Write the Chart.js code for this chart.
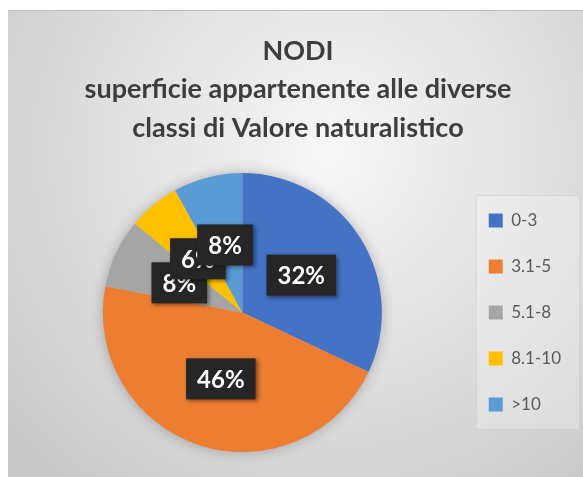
<!DOCTYPE html>
<html>
<head>
<meta charset="utf-8">
<script src="https://cdn.jsdelivr.net/npm/chart.js@4.4.1/dist/chart.umd.min.js"></script>
<style>
  html, body { margin: 0; padding: 0; background: #fff; }
  #wrap { width: 583px; height: 477px; }
</style>
</head>
<body>
<div id="wrap"><canvas id="pieChart" width="583" height="477"></canvas></div>
<script>
// chart data
const categories = ['0-3', '3.1-5', '5.1-8', '8.1-10', '>10'];
const percentages = [32, 46, 8, 6, 8];
const sliceColors = ['#4472C4', '#ED7D31', '#A5A5A5', '#FFC000', '#5B9BD5'];
const titleLines = ['NODI', 'superficie appartenente alle diverse', 'classi di Valore naturalistico'];

// panel background with soft radial gradient
const panelBackground = {
  id: 'panelBackground',
  beforeDraw(chart) {
    const ctx = chart.ctx;
    const w = chart.width, h = chart.height;
    ctx.save();
    ctx.fillStyle = '#ffffff';
    ctx.fillRect(0, 0, w, h);
    const g = ctx.createRadialGradient(330, 150, 0, 330, 150, 430);
    g.addColorStop(0, '#f7f7f7');
    g.addColorStop(1, '#c9c9c9');
    ctx.fillStyle = g;
    ctx.fillRect(8, 10, w - 8, h - 10);
    ctx.strokeStyle = '#bdbdbd';
    ctx.lineWidth = 1;
    ctx.beginPath();
    ctx.moveTo(8, 10.5);
    ctx.lineTo(w, 10.5);
    ctx.stroke();

    // legend frame
    const boxes = chart.legend && chart.legend.legendHitBoxes;
    if (boxes && boxes.length) {
      const first = boxes[0], last = boxes[boxes.length - 1];
      const x0 = first.left - 13;
      const y0 = first.top - 17;
      const y1 = last.top + last.height + 16;
      ctx.fillStyle = 'rgba(255,255,255,0.28)';
      ctx.fillRect(x0, y0, w - 3 - x0, y1 - y0);
      ctx.strokeStyle = 'rgba(200,200,200,0.6)';
      ctx.strokeRect(x0 + 0.5, y0 + 0.5, w - 4 - x0, y1 - y0);
    }
    ctx.restore();
  }
};

// soft shadow under the pie
const pieShadow = {
  id: 'pieShadow',
  beforeDatasetsDraw(chart) {
    const arc = chart.getDatasetMeta(0).data[0];
    if (!arc) return;
    const {x, y, outerRadius} = arc.getProps(['x', 'y', 'outerRadius'], true);
    const ctx = chart.ctx;
    ctx.save();
    ctx.shadowColor = 'rgba(0,0,0,0.3)';
    ctx.shadowBlur = 14;
    ctx.fillStyle = '#bbbbbb';
    ctx.beginPath();
    ctx.arc(x, y, outerRadius - 1, 0, Math.PI * 2);
    ctx.fill();
    ctx.restore();
  }
};

// dark boxed percentage labels
const boxLabels = {
  id: 'boxLabels',
  afterDatasetsDraw(chart) {
    const ctx = chart.ctx;
    const meta = chart.getDatasetMeta(0);
    ctx.save();
    ctx.font = 'bold 24px Lato, "Open Sans", sans-serif';
    ctx.textAlign = 'center';
    ctx.textBaseline = 'middle';
    meta.data.forEach((arc, i) => {
      const pos = arc.tooltipPosition();
      const text = percentages[i] + '%';
      const tw = ctx.measureText(text).width;
      const bw = tw + 22, bh = 41;
      ctx.save();
      ctx.shadowColor = 'rgba(0,0,0,0.45)';
      ctx.shadowBlur = 4;
      ctx.shadowOffsetX = 2;
      ctx.shadowOffsetY = 2;
      ctx.fillStyle = '#262626';
      ctx.fillRect(pos.x - bw / 2, pos.y - bh / 2, bw, bh);
      ctx.restore();
      ctx.fillStyle = '#ffffff';
      ctx.fillText(text, pos.x, pos.y + 1);
    });
    ctx.restore();
  }
};

const ctx = document.getElementById('pieChart').getContext('2d');
const myChart = new Chart(ctx, {
  type: 'pie',
  data: {
    labels: categories,
    datasets: [{
      data: percentages,
      backgroundColor: sliceColors,
      borderWidth: 0
    }]
  },
  options: {
    responsive: false,
    animation: false,
    layout: {
      padding: { top: 10, left: 25, right: 12, bottom: 25 }
    },
    plugins: {
      title: {
        display: true,
        text: titleLines,
        color: '#3d3d3d',
        font: { family: 'Lato, "Open Sans", sans-serif', size: 27, weight: 'bold', lineHeight: 1.42 },
        padding: { top: 22, bottom: 26 }
      },
      legend: {
        display: true,
        position: 'right',
        fullSize: false,
        labels: {
          color: '#595959',
          font: { family: 'Lato, "Open Sans", sans-serif', size: 17 },
          boxWidth: 14,
          boxHeight: 14,
          padding: 29
        }
      },
      tooltip: { enabled: false }
    }
  },
  plugins: [panelBackground, pieShadow, boxLabels]
});
</script>
</body>
</html>
